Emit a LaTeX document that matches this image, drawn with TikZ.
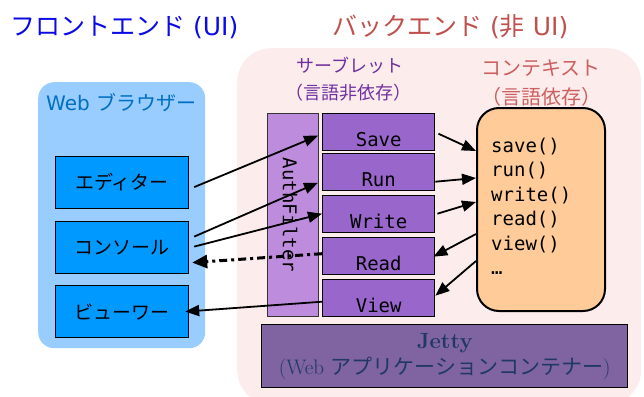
\documentclass[tikz,border=0pt]{standalone}
\usepackage{fontspec}
\newfontfamily\dvs{DejaVu Sans}
\newfontfamily\cjk{Noto Sans CJK JP}
\setmonofont{DejaVu Sans Mono}
\usetikzlibrary{arrows.meta,calc}

\definecolor{frontblue}{RGB}{10,10,230}
\definecolor{backred}{RGB}{192,80,77}
\definecolor{browserbg}{RGB}{153,204,255}
\definecolor{browserlbl}{RGB}{0,112,192}
\definecolor{uibox}{RGB}{0,153,255}
\definecolor{backbg}{RGB}{253,236,236}
\definecolor{servletlbl}{RGB}{112,48,160}
\definecolor{ctxlbl}{RGB}{205,95,95}
\definecolor{authfill}{RGB}{190,140,220}
\definecolor{servletfill}{RGB}{153,102,204}
\definecolor{ctxfill}{RGB}{255,204,153}
\definecolor{jettyfill}{RGB}{128,100,162}
\definecolor{jettytext}{RGB}{31,56,100}

\tikzset{
  title/.style={anchor=west,inner sep=0pt,font=\dvs\fontsize{25}{25}\selectfont},
  region/.style={anchor=north west,inner sep=0pt,draw=none},
  uiblock/.style={anchor=north west,draw=black,line width=1.2pt,fill=uibox,
    minimum width=133pt,minimum height=52pt,inner sep=0pt,
    font=\cjk\fontsize{19}{19}\selectfont},
  servlet/.style={anchor=north west,draw=black,line width=1.4pt,fill=servletfill,
    minimum width=112pt,minimum height=37pt,inner sep=0pt,
    text height=28pt,text depth=0pt,font=\ttfamily\fontsize{19}{19}\selectfont},
  sublabel/.style={inner sep=0pt,font=\cjk\fontsize{18}{18}\selectfont},
  ctxlabel/.style={inner sep=0pt,font=\cjk\fontsize{20}{20}\selectfont},
  ctxline/.style={anchor=base west,inner sep=0pt,font=\ttfamily\fontsize{19}{19}\selectfont},
  conn/.style={line width=1.8pt,-{Triangle[length=14pt,width=11pt]}},
  dashconn/.style={line width=3pt,dash pattern=on 8pt off 4pt on 3pt off 4pt,
    -{Triangle[length=15pt,width=13pt]}},
}

\begin{document}
\begin{tikzpicture}[x=1pt,y=-1pt]
\useasboundingbox (0,0) rectangle (644,396);

% headings
\node[title,text=frontblue] (fronttitle) at (10,27) {{\cjk フロントエンド} (UI)};
\node[title,text=backred] (backtitle) at (332,27) {{\cjk バックエンド} ({\cjk 非} UI)};

% browser side
\node[region,fill=browserbg,rounded corners=16pt,minimum width=167pt,minimum height=266pt]
  (browser) at (38,82) {};
\node[anchor=west,inner sep=0pt,text=browserlbl,font=\dvs\fontsize{20}{20}\selectfont]
  (browserlabel) at (46,103) {Web {\cjk ブラウザー}};
\node[uiblock] (editor)  at (55,156) {エディター};
\node[uiblock] (console) at (55,221) {コンソール};
\node[uiblock] (viewer)  at (55,285) {ビューワー};

% server side
\node[region,fill=backbg,rounded corners=34pt,minimum width=404pt,minimum height=356pt]
  (backend) at (237,48) {};
\node[sublabel,text=servletlbl] (servletA) at (350,65) {サーブレット};
\node[sublabel,text=servletlbl] (servletB) at (348,93) {（言語非依存）};
\node[ctxlabel,text=ctxlbl] (ctxA) at (541,68) {コンテキスト};
\node[ctxlabel,text=ctxlbl] (ctxB) at (541,97) {（言語依存）};

\node[region,draw=black!80,line width=1pt,fill=authfill,minimum width=51pt,minimum height=203pt]
  (auth) at (267,113) {};
\node[rotate=-90,inner sep=0pt,font=\ttfamily\fontsize{19}{19}\selectfont] (authtext)
  at ($(auth.center)+(-3,0)$) {AuthFilter};

\node[servlet] (save)  at (322,113) {Save};
\node[servlet] (run)   at (322,153) {Run};
\node[servlet] (write) at (322,195) {Write};
\node[servlet] (read)  at (322,237) {Read};
\node[servlet] (view)  at (322,279) {View};

\node[region,draw=black,line width=2pt,fill=ctxfill,rounded corners=22pt,
  minimum width=128pt,minimum height=203pt] (context) at (476,107) {};
\foreach \t [count=\i] in {save(),run(),write(),read(),view(),…}
  \node[ctxline] (ctxline\i) at (491,{127.5+24.5*\i}) {\t};

\node[region,draw=black,line width=1.4pt,fill=jettyfill,minimum width=366pt,minimum height=63pt,
  text=jettytext,align=center,font=\fontsize{21}{26}\selectfont] (jetty) at (261,324)
  {{\fontsize{22}{26}\selectfont\textbf{Jetty}}\\(Web {\cjk アプリケーションコンテナー})};

% requests from the browser to the servlets
\draw[conn] ($(editor.east)+(5,4.5)$) -- ($(save.west)+(-4,3.5)$);
\draw[conn] ($(console.east)+(5,-11)$) -- ($(run.west)+(-4,10.5)$);
\draw[conn] ($(console.east)+(5,-1)$) -- ($(write.west)+(0,-0.5)$);
\draw[dashconn] ($(read.west)+(0,-2.5)$) -- ($(console.east)+(3,15)$);
\draw[conn] ($(view.west)+(0,3.5)$) -- ($(viewer.east)+(-4,0)$);

% servlets and context
\draw[conn] ($(save.east)+(3,1.5)$) -- ($(context.west)+(0,-58.5)$);
\draw[conn] ($(run.east)+(0,9.5)$) -- ($(context.west)+(0,-31.5)$);
\draw[conn] ($(write.east)+(2,-0.5)$) -- ($(context.west)+(0,-7.5)$);
\draw[conn] ($(context.west)+(0,24.5)$) -- ($(read.east)+(-2,0.5)$);
\draw[conn] ($(context.west)+(0,51.5)$) -- ($(view.east)+(0,-2.5)$);
\end{tikzpicture}
\end{document}
